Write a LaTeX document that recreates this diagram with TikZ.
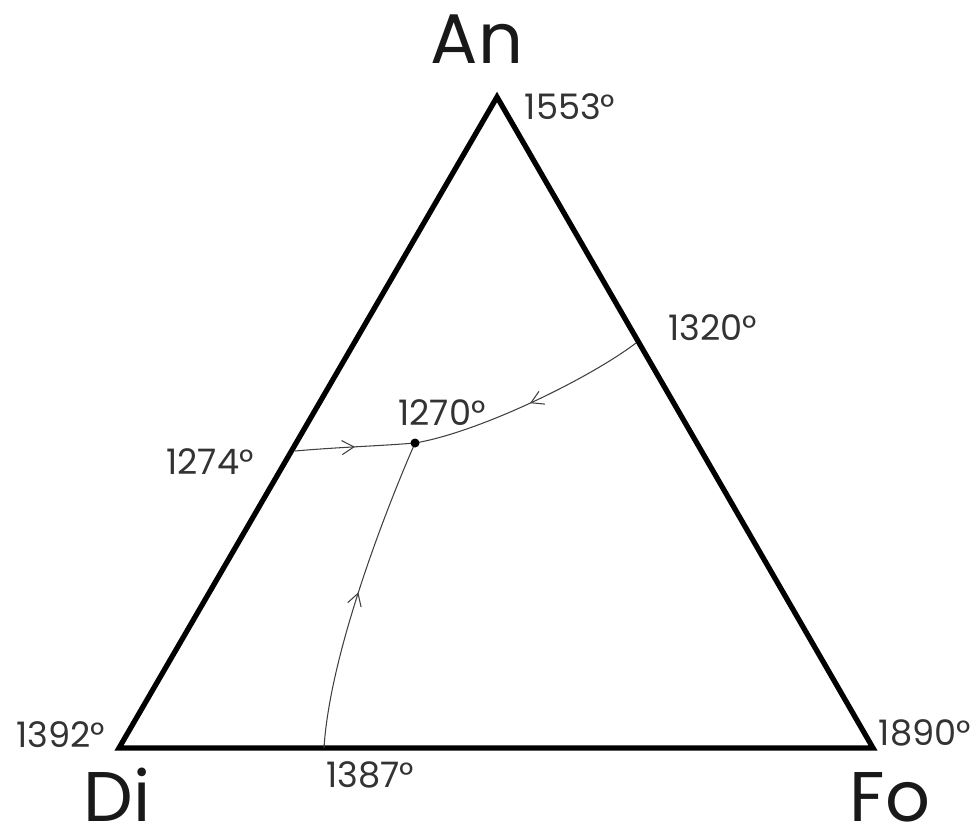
\documentclass[tikz,border=0pt]{standalone}
\usepackage{fontspec}
\setmainfont{Poppins}
\usetikzlibrary{arrows.meta,decorations.markings}

\begin{document}
\begin{tikzpicture}[x=0.02cm,y=-0.02cm,
  side/.style={line width=3pt,line join=miter},
  cotectic/.style={line width=0.6pt,black!75,postaction={decorate},
    decoration={markings,mark=at position 0.5 with {\arrow{Straight Barb[length=2.4mm,width=2.8mm]}}}},
  comp/.style={font=\fontsize{40}{40}\selectfont,text=black!90,anchor=base,inner sep=0pt,text depth=0pt},
  temp/.style={font=\fontsize{20}{20}\selectfont,text=black!80,inner sep=0pt}]
  \useasboundingbox (0,0) rectangle (974,836);
  % corners of the ternary
  \coordinate (an) at (497,97);
  \coordinate (di) at (119,748);
  \coordinate (fo) at (873,748);
  \draw[side] (an) -- (fo) -- (di) -- cycle;
  % ends of the boundary curves
  \coordinate (rgt) at (636,343);
  \coordinate (lft) at (295,451);
  \coordinate (bot) at (324,748);
  \coordinate (eut) at (415,443);
  \draw[cotectic] (rgt) .. controls (590,378) and (480,432) .. (eut);
  \draw[cotectic] (lft) .. controls (340,447) and (380,446) .. (eut);
  \draw[cotectic] (bot) .. controls (330,650) and (390,500) .. (eut);
  \fill (eut) circle (4.5);
  % labels
  \node[comp] (lan) at (477,63) {An};
  \node[comp] (ldi) at (117,821) {Di};
  \node[comp] (lfo) at (890,821) {Fo};
  \node[temp] (tan) at (570,107) {1553°};
  \node[temp] (trg) at (713,328) {1320°};
  \node[temp] (teu) at (442,413) {1270°};
  \node[temp] (tlf) at (210,462) {1274°};
  \node[temp] (tdi) at (61,735) {1392°};
  \node[temp] (tfo) at (925,733) {1890°};
  \node[temp] (tbt) at (370,775) {1387°};
\end{tikzpicture}
\end{document}
